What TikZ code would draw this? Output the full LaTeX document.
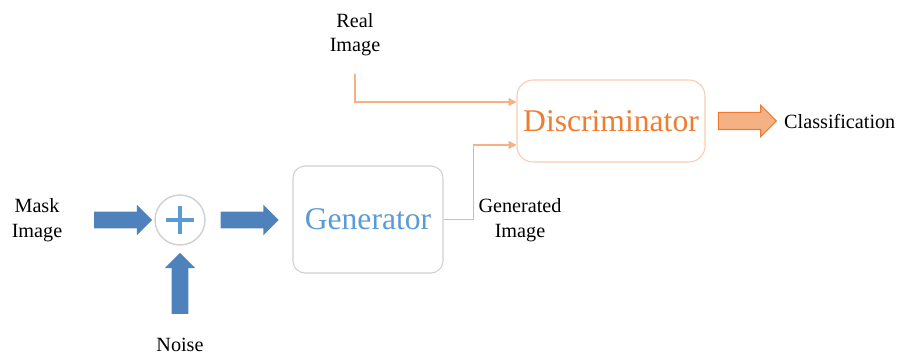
\documentclass[tikz,border=0pt]{standalone}
\usepackage{fontspec}
\setmainfont{Liberation Serif}
\usetikzlibrary{arrows.meta,shapes.arrows,calc}
\definecolor{gencolor}{HTML}{5B9BD5}
\definecolor{arrcolor}{HTML}{4F81BD}
\definecolor{disccolor}{HTML}{ED7D31}
\definecolor{linecolor}{HTML}{F4B183}
\definecolor{discline}{HTML}{F8CBAD}
\definecolor{boxcolor}{HTML}{D0D0D0}

\begin{document}
\begin{tikzpicture}[x=0.02cm,y=-0.02cm,font=\fontsize{11.5}{14}\selectfont,
                    >={Triangle[length=4.5pt,width=4.5pt]}]
  \tikzstyle{block}=[draw,rounded corners=0.24cm,line width=0.6pt,font=\fontsize{18}{20}\selectfont]
  \tikzstyle{bigarrow}=[single arrow,fill=arrcolor,inner xsep=0pt,inner ysep=0.16cm,
                        single arrow head extend=0.14cm,minimum height=1.16cm]
  \tikzstyle{conn}=[->,draw=linecolor,line width=0.8pt]
  \useasboundingbox (0,0) rectangle (902,354);

  \node[align=center] (M) at (37,220) {Mask\\Image};
  \node[bigarrow] (A1) at (119,220) {};
  \node[circle,draw=boxcolor,line width=0.8pt,minimum size=1cm] (P) at (180,220) {};
  \draw[gencolor,line width=1.8pt] ($(P)+(-14,0)$) -- ($(P)+(14,0)$)
                                   ($(P)+(0,-14)$) -- ($(P)+(0,14)$);
  \node[bigarrow,shape border rotate=90,inner xsep=0.16cm,inner ysep=0pt,
        minimum height=1.22cm] (A2) at (180,287.5) {};
  \node (N) at (180,345) {Noise};
  \node[bigarrow] (A3) at (245.5,220) {};

  \node[block,draw=boxcolor,text=gencolor,minimum width=3cm,minimum height=2.14cm] (G) at (368,219.5) {Generator};
  \node[block,draw=discline,text=disccolor,rounded corners=0.32cm,minimum width=3.76cm,minimum height=1.64cm] (D) at (611,121) {Discriminator};

  \node[align=center] (R) at (355,34.5) {Real\\Image};
  \node[align=center] (I) at (520,220) {Generated\\Image};
  \node[bigarrow,fill=linecolor,draw=disccolor,line width=0.6pt] (A4) at (743,121) {};
  \node[anchor=west] (C) at (778,121) {Classification};

  \draw[conn] ($(R.south)+(0,12)$) |- ([yshift=0.38cm]D.west);
  \draw[conn] (G.east) -- ++(30,0) |- ([yshift=-0.48cm]D.west);

\end{tikzpicture}
\end{document}
